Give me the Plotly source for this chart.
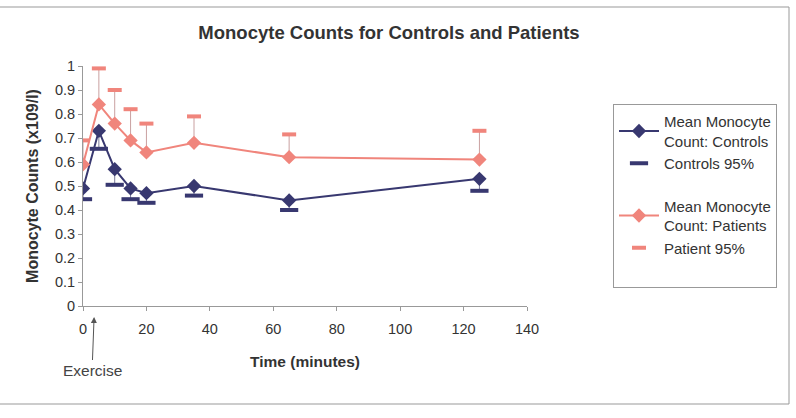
import plotly.graph_objects as go

# Data
time_min = [0, 5, 10, 15, 20, 35, 65, 125]
controls_mean = [0.49, 0.73, 0.57, 0.49, 0.47, 0.50, 0.44, 0.53]
controls_95 = [0.445, 0.655, 0.505, 0.445, 0.43, 0.46, 0.40, 0.48]
patients_mean = [0.59, 0.84, 0.76, 0.69, 0.64, 0.68, 0.62, 0.61]
patients_95 = [0.69, 0.99, 0.90, 0.82, 0.76, 0.79, 0.715, 0.73]
x_ticks = [0, 20, 40, 60, 80, 100, 120, 140]
y_ticks = [0, 0.1, 0.2, 0.3, 0.4, 0.5, 0.6, 0.7, 0.8, 0.9, 1]

C_CTRL = "#383870"
C_PAT = "#f0857c"
FONT = "Arial, Liberation Sans, sans-serif"

ctrl_minus = [m - l for m, l in zip(controls_mean, controls_95)]
pat_plus = [u - m for m, u in zip(patients_mean, patients_95)]

fig = go.Figure()
fig.add_trace(go.Scatter(
    x=time_min, y=controls_mean, mode="lines+markers",
    name="Mean Monocyte<br>Count: Controls", legendgroup="c",
    line=dict(color=C_CTRL, width=2),
    marker=dict(symbol="diamond", size=11, color=C_CTRL),
    error_y=dict(type="data", symmetric=False, array=[0] * len(time_min),
                 arrayminus=ctrl_minus, width=0, thickness=1, color="#7a7a9a"),
))
fig.add_trace(go.Scatter(
    x=time_min, y=controls_95, mode="markers", name="Controls 95%",
    legendgroup="c",
    marker=dict(symbol="line-ew", size=13, line=dict(width=4, color=C_CTRL)),
))
fig.add_trace(go.Scatter(
    x=time_min, y=patients_mean, mode="lines+markers",
    name="Mean Monocyte<br>Count: Patients", legendgroup="p",
    line=dict(color=C_PAT, width=2),
    marker=dict(symbol="diamond", size=11, color=C_PAT),
    error_y=dict(type="data", symmetric=False, array=pat_plus,
                 arrayminus=[0] * len(time_min), width=0, thickness=1,
                 color="#c9a0a0"),
))
fig.add_trace(go.Scatter(
    x=time_min, y=patients_95, mode="markers", name="Patient 95%",
    legendgroup="p",
    marker=dict(symbol="line-ew", size=10, line=dict(width=4, color=C_PAT)),
))
# blank legend row to pad the bottom of the legend box
fig.add_trace(go.Scatter(
    x=[None], y=[None], mode="markers", name=" ", legendgroup="p",
    marker=dict(size=1, color="rgba(0,0,0,0)"), hoverinfo="skip",
))

L, R, T, B = 83, 527, 66, 306
W, H = 796, 418


def px_x(p):
    return (p - L) / (R - L)


def px_y(p):
    return (B - p) / (B - T)


fig.update_layout(
    width=W, height=H,
    margin=dict(l=L, r=W - R, t=T, b=H - B),
    paper_bgcolor="white", plot_bgcolor="white",
    font=dict(family=FONT, size=14.5, color="#333333"),
    title=dict(text="<b>Monocyte Counts for Controls and Patients</b>",
               x=389 / W, xanchor="center", y=1 - 33 / H, yanchor="middle",
               font=dict(size=18.5, color="#333333")),
    xaxis=dict(range=[0, 140], tickvals=x_ticks, showgrid=False, zeroline=False,
               showline=True, linecolor="#999999", linewidth=1,
               ticks="outside", ticklen=4, tickcolor="#999999",
               ticklabelstandoff=6,
               title=dict(text="<b>Time (minutes)</b>", standoff=19,
                          font=dict(size=15.5))),
    yaxis=dict(range=[0, 1], tickvals=y_ticks, showgrid=False, zeroline=False,
               showline=True, linecolor="#999999", linewidth=1,
               ticks="outside", ticklen=4, tickcolor="#999999",
               title=dict(text="<b>Monocyte Counts (x109/l)</b>", standoff=12,
                          font=dict(size=16))),
    legend=dict(x=px_x(613), y=px_y(104), xanchor="left", yanchor="top",
                bordercolor="#999999", borderwidth=1, bgcolor="white",
                font=dict(size=15), tracegroupgap=20, itemwidth=40),
    showlegend=True,
)

fig.add_annotation(
    x=3.5, y=px_y(317), xref="x", yref="paper",
    text="Exercise", showarrow=True, ax=-2, ay=53,
    arrowhead=2, arrowsize=1.2, arrowwidth=1, arrowcolor="#555555",
    font=dict(size=15.5, color="#444444"),
)

fig.add_shape(type="rect", xref="paper", yref="paper",
              x0=px_x(-5), x1=px_x(789), y0=px_y(404), y1=px_y(7),
              line=dict(color="#999999", width=1), layer="below")

fig.write_html("out.html")
